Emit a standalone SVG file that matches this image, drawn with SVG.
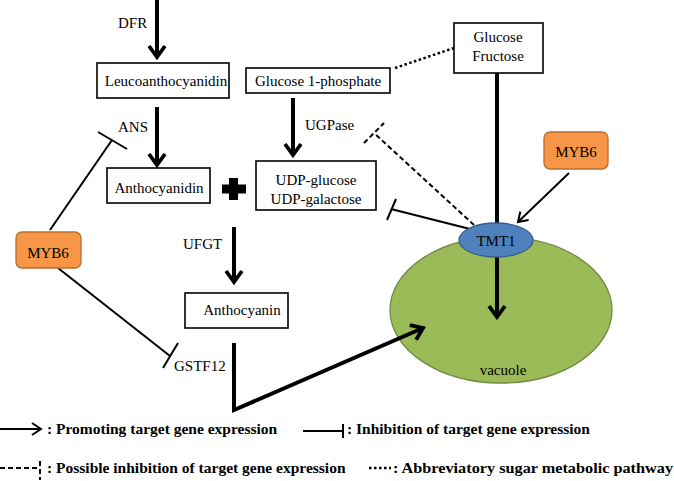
<svg xmlns="http://www.w3.org/2000/svg" width="674" height="481" viewBox="0 0 674 481">
<defs>
<style>
.t{font-family:"Liberation Serif","Times New Roman",serif;font-size:15px;fill:#000}
.tc{font-family:"Liberation Serif","Times New Roman",serif;font-size:15px;fill:#000;text-anchor:middle}
.lg{font-family:"Liberation Serif","Times New Roman",serif;font-size:15.5px;font-weight:bold;fill:#000}
.box{fill:#fff;stroke:#000;stroke-width:1.6}
.myb{fill:#F79646;stroke:#B66D31;stroke-width:1.3}
.thick{fill:none;stroke:#000;stroke-width:4}
.thin{fill:none;stroke:#000;stroke-width:2}
.dash{fill:none;stroke:#000;stroke-width:2;stroke-dasharray:5,3}
.dot{fill:none;stroke:#000;stroke-width:2.5;stroke-dasharray:2.5,2.5}
</style>
<marker id="big" markerUnits="userSpaceOnUse" viewBox="0 0 20 20" markerWidth="20" markerHeight="20" refX="13" refY="10" orient="auto">
<path d="M2,2 L13,10 L2,18" fill="none" stroke="#000" stroke-width="3.8"/>
</marker>
<marker id="small" markerUnits="userSpaceOnUse" viewBox="0 0 16 16" markerWidth="16" markerHeight="16" refX="11" refY="8" orient="auto">
<path d="M2,2 L11,8 L2,14" fill="none" stroke="#000" stroke-width="2"/>
</marker>
</defs>

<g id="vacuole">
<ellipse cx="501" cy="310" rx="111" ry="73" fill="#9BBB59" stroke="#71893F" stroke-width="1.3"/>
<text class="tc" x="503" y="375">vacuole</text>
</g>

<g id="connectors">
<line class="thick" x1="157" y1="0" x2="157" y2="57" marker-end="url(#big)"/>
<line class="thick" x1="157" y1="107" x2="157" y2="165" marker-end="url(#big)"/>
<line class="thick" x1="293" y1="98" x2="293" y2="155" marker-end="url(#big)"/>
<line class="thick" x1="234" y1="227" x2="234" y2="282" marker-end="url(#big)"/>
<line class="dot" x1="395" y1="68" x2="454" y2="48"/>
<line class="thick" x1="497" y1="73" x2="497" y2="225"/>
<polyline class="thick" points="234,343 234,410 423,328" marker-end="url(#big)"/>
<line class="thick" x1="497" y1="257" x2="497" y2="317" marker-end="url(#big)"/>
<line class="thin" x1="569" y1="173" x2="518" y2="222" marker-end="url(#small)"/>
<line class="thin" x1="50" y1="230" x2="112" y2="140"/>
<line class="thin" x1="98" y1="132" x2="127" y2="149"/>
<line class="thin" x1="58" y1="268" x2="170" y2="356"/>
<line class="thin" x1="163" y1="368" x2="178" y2="343"/>
<line class="thin" x1="470" y1="229" x2="391" y2="209"/>
<line class="thin" x1="396" y1="199" x2="387" y2="220"/>
<line class="dash" x1="474" y1="225" x2="374" y2="133"/>
<line class="dash" x1="364" y1="143" x2="384" y2="123"/>
</g>

<g id="leucoanthocyanidin">
<rect class="box" x="97" y="63" width="132" height="35"/>
<text class="tc" x="166" y="86">Leucoanthocyanidin</text>
</g>
<g id="glucose1p">
<rect class="box" x="246" y="68" width="144" height="25"/>
<text class="tc" x="318" y="86">Glucose 1-phosphate</text>
</g>
<g id="glucosefructose">
<rect class="box" x="454" y="23" width="89" height="50"/>
<text class="tc" x="498" y="42">Glucose</text>
<text class="tc" x="498" y="61">Fructose</text>
</g>
<g id="anthocyanidin">
<rect class="box" x="107" y="168" width="103" height="35"/>
<text class="tc" x="159" y="193">Anthocyanidin</text>
</g>
<g id="plus">
<rect x="229" y="178" width="9" height="22" fill="#000"/>
<rect x="222" y="184.5" width="24" height="9" fill="#000"/>
</g>
<g id="udp">
<rect class="box" x="256" y="161" width="120" height="49"/>
<text class="tc" x="316" y="185">UDP-glucose</text>
<text class="tc" x="316" y="204">UDP-galactose</text>
</g>
<g id="anthocyanin">
<rect class="box" x="185" y="293" width="103" height="35"/>
<text class="tc" x="242" y="315">Anthocyanin</text>
</g>
<g id="myb6-left">
<rect class="myb" x="16" y="232" width="65" height="36" rx="6"/>
<text class="tc" x="48" y="258">MYB6</text>
</g>
<g id="myb6-right">
<rect class="myb" x="544" y="132" width="64" height="37" rx="6"/>
<text class="tc" x="576" y="157">MYB6</text>
</g>
<g id="tmt1">
<ellipse cx="496" cy="240" rx="37" ry="17" fill="#4F81BD" stroke="#385D8A" stroke-width="1.3"/>
<text class="tc" x="496" y="246">TMT1</text>
</g>
<g id="labels">
<text class="t" x="118" y="28">DFR</text>
<text class="t" x="118" y="132">ANS</text>
<text class="t" x="305" y="130">UGPase</text>
<text class="t" x="183" y="249">UFGT</text>
<text class="t" x="174" y="371">GSTF12</text>
</g>

<g id="legend">
<line class="thin" x1="0" y1="429" x2="41" y2="429" marker-end="url(#small)"/>
<text class="lg" x="47" y="434">: Promoting target gene expression</text>
<line class="thin" x1="303" y1="431" x2="343" y2="431"/>
<line class="thin" x1="343" y1="424" x2="343" y2="438"/>
<text class="lg" x="347" y="434">: Inhibition of target gene expression</text>
<line class="dash" x1="0" y1="468" x2="40" y2="468"/>
<line class="dash" x1="40" y1="461" x2="40" y2="480"/>
<text class="lg" x="47" y="473">: Possible inhibition of target gene expression</text>
<line class="dot" x1="369" y1="468" x2="391" y2="468"/>
<text class="lg" x="393" y="473" textLength="280" lengthAdjust="spacingAndGlyphs">: Abbreviatory sugar metabolic pathway</text>
</g>
</svg>
